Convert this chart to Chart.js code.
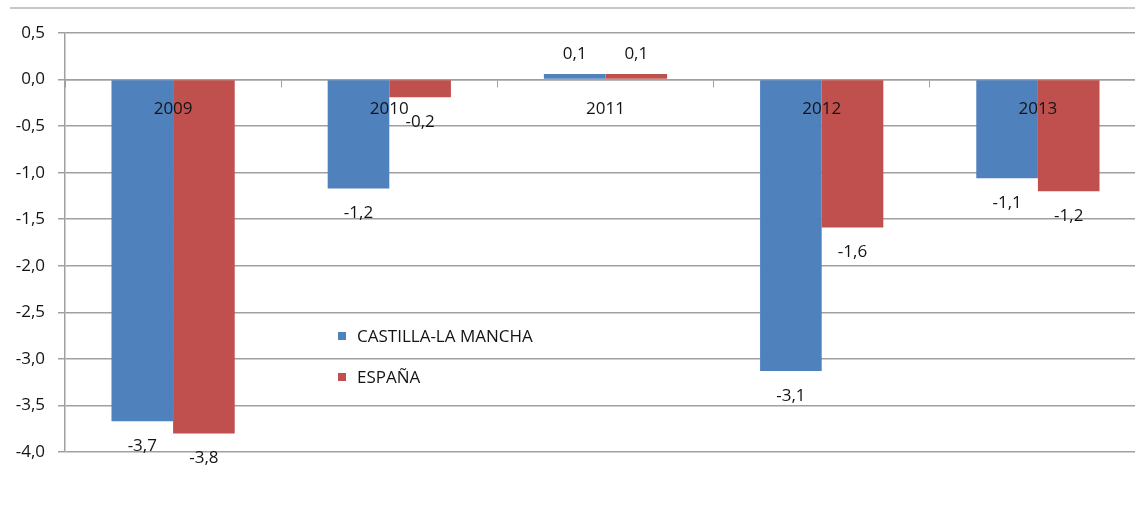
<!DOCTYPE html>
<html><head><meta charset="utf-8">
<script src="https://cdn.jsdelivr.net/npm/chart.js@4.4.1/dist/chart.umd.min.js"></script>
<style>
html,body{margin:0;padding:0;background:#fff;overflow:hidden;width:1135px;height:510px;}
#wrap{position:relative;width:1135px;height:510px;overflow:hidden;}
#topline{position:absolute;left:10px;top:7px;width:1125px;height:2px;background:#c8c8c8;}
canvas{position:absolute;left:0;top:0;}
</style></head>
<body>
<div id="wrap"><div id="topline"></div><canvas id="c" width="1146" height="510" style="width:1146px;height:510px"></canvas></div>
<script>
const categories = ['2009','2010','2011','2012','2013'];
const seriesNames = ['CASTILLA-LA MANCHA','ESPAÑA'];
const castillaValues = [-3.67, -1.17, 0.06, -3.13, -1.06];
const espanaValues = [-3.80, -0.19, 0.06, -1.59, -1.20];
const seriesColors = ['#4F81BD','#C0504D'];
const yTicks = [0.5,0,-0.5,-1,-1.5,-2,-2.5,-3,-3.5,-4];

const FONT = '"Open Sans", Lato, sans-serif';
const FS = 17;
const TXT = '#141414';
const fmt = v => v.toFixed(1).replace('.', ',');

const labelPlugin = {
  id: 'valueLabels',
  afterDatasetsDraw(chart) {
    const ctx = chart.ctx;
    ctx.save();
    ctx.font = FS + 'px ' + FONT;
    ctx.fillStyle = TXT;
    ctx.textAlign = 'center';
    ctx.textBaseline = 'middle';
    chart.data.datasets.forEach((ds, i) => {
      chart.getDatasetMeta(i).data.forEach((bar, j) => {
        const v = ds.data[j];
        const y = v < 0 ? bar.y + 25 : bar.y - 20;
        ctx.fillText(fmt(v), bar.x, y);
      });
    });
    ctx.restore();
  }
};

const legendPlugin = {
  id: 'innerLegend',
  afterDraw(chart) {
    const ctx = chart.ctx;
    ctx.save();
    ctx.font = FS + 'px ' + FONT;
    ctx.textBaseline = 'middle';
    ctx.textAlign = 'left';
    const x0 = 338, ys = [336, 377];
    chart.data.datasets.forEach((ds, i) => {
      ctx.fillStyle = ds.backgroundColor;
      ctx.fillRect(x0, ys[i] - 4, 8, 8);
      ctx.fillStyle = TXT;
      ctx.fillText(ds.label, x0 + 19, ys[i] + 1);
    });
    ctx.restore();
  }
};

new Chart(document.getElementById('c'), {
  type: 'bar',
  data: {
    labels: categories,
    datasets: [
      { label: seriesNames[0], data: castillaValues, backgroundColor: seriesColors[0] },
      { label: seriesNames[1], data: espanaValues, backgroundColor: seriesColors[1] }
    ]
  },
  options: {
    responsive: false,
    animation: false,
    devicePixelRatio: 1,
    categoryPercentage: 0.57,
    barPercentage: 1.0,
    layout: { padding: { top: 33, right: 0, bottom: 58, left: 0 } },
    plugins: { legend: { display: false }, tooltip: { enabled: false } },
    scales: {
      x: {
        position: { y: 0 },
        offset: true,
        grid: { offset: true, drawOnChartArea: false, drawTicks: true, tickLength: 7, color: '#a0a0a0' },
        border: { display: true, color: '#a0a0a0', width: 1.5 },
        ticks: { z: 1, font: { family: FONT, size: FS }, color: TXT, padding: 12 }
      },
      y: {
        min: -4, max: 0.5,
        afterBuildTicks(scale) { scale.ticks = yTicks.map(v => ({ value: v })); },
        afterFit(scale) { scale.width = 65; },
        grid: { color: '#a0a0a0', lineWidth: 1.5, tickLength: 7 },
        border: { display: true, color: '#a0a0a0', width: 1.5 },
        ticks: { font: { family: FONT, size: FS }, color: TXT, padding: 13, callback: v => fmt(v) }
      }
    }
  },
  plugins: [labelPlugin, legendPlugin]
});
</script>
</body></html>
